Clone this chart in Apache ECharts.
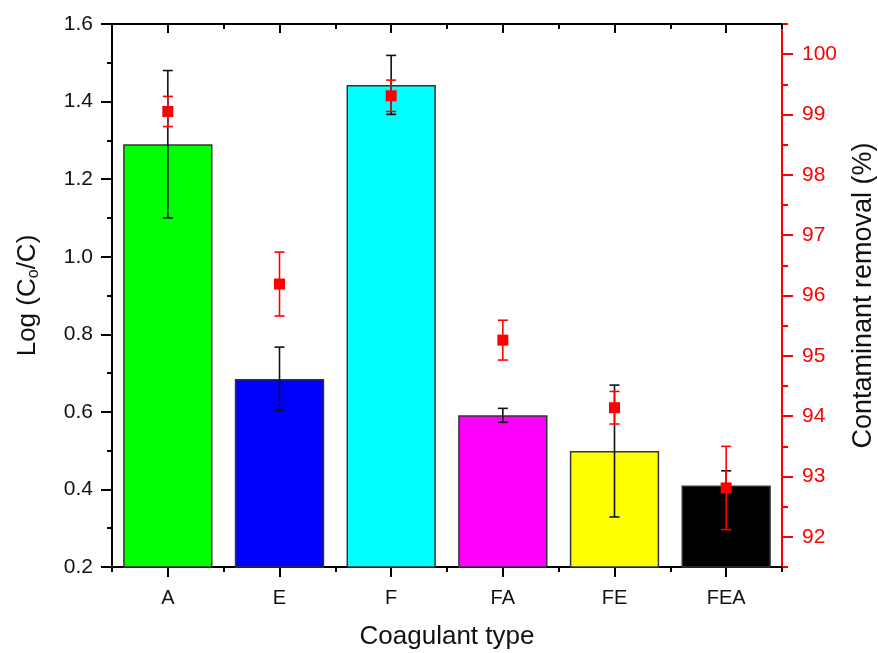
<!DOCTYPE html>
<html>
<head>
<meta charset="utf-8">
<script src="https://cdn.jsdelivr.net/npm/echarts@6/dist/echarts.min.js"></script>
<style>
  html, body { margin: 0; padding: 0; background: #fff; }
  #chart { width: 878px; height: 653px; }
</style>
</head>
<body>
<div id="chart"></div>
<script>
// Coagulant types and measured results
const categories = ['A', 'E', 'F', 'FA', 'FE', 'FEA'];
const logReduction = [1.29, 0.685, 1.443, 0.591, 0.499, 0.41];
const logReductionErr = [0.19, 0.082, 0.076, 0.018, 0.17, 0.038];
const removal = [99.05, 96.19, 99.31, 95.26, 94.14, 92.81];
const removalErr = [0.25, 0.53, 0.26, 0.33, 0.27, 0.69];
const rightTicks = [92, 93, 94, 95, 96, 97, 98, 99, 100];

const barColors = ['#00ff00', '#0000ff', '#00ffff', '#ff00ff', '#ffff00', '#000000'];
const FONT = '"Liberation Sans", Arial, sans-serif';
const RED = '#ff0000';
const INK = '#111111';

const chart = echarts.init(document.getElementById('chart'), null, { renderer: 'canvas' });

// Vertical error bar with caps, drawn from [x, low, high]
function errorBarRenderer(color, halfCap) {
  return function (params, api) {
    const top = api.coord([api.value(0), api.value(2)]);
    const bot = api.coord([api.value(0), api.value(1)]);
    const style = { stroke: color, lineWidth: 1.6 };
    return {
      type: 'group',
      children: [
        { type: 'line', shape: { x1: top[0], y1: top[1], x2: bot[0], y2: bot[1] }, style },
        { type: 'line', shape: { x1: top[0] - halfCap, y1: top[1], x2: top[0] + halfCap, y2: top[1] }, style },
        { type: 'line', shape: { x1: bot[0] - halfCap, y1: bot[1], x2: bot[0] + halfCap, y2: bot[1] }, style }
      ]
    };
  };
}

const logErrData = categories.map((c, i) => [i, logReduction[i] - logReductionErr[i], logReduction[i] + logReductionErr[i]]);
const remErrData = categories.map((c, i) => [i, removal[i] - removalErr[i], removal[i] + removalErr[i]]);

const tickStyle = { color: '#000', width: 2 };

const option = {
  animation: false,
  backgroundColor: '#ffffff',
  textStyle: { fontFamily: FONT },
  grid: { left: 112, right: 96, top: 24, bottom: 86, containLabel: false, outerBoundsMode: 'none' },
  xAxis: [
    {
      type: 'category', data: categories, position: 'bottom',
      axisLine: { show: true, lineStyle: { color: '#000', width: 2 } },
      axisTick: { show: true, alignWithLabel: true, length: 10, lineStyle: tickStyle },
      axisLabel: { show: true, color: INK, fontSize: 20, fontFamily: FONT, margin: 21 },
      name: 'Coagulant type', nameLocation: 'middle', nameGap: 57,
      nameTextStyle: { color: INK, fontSize: 26, fontFamily: FONT },
      splitLine: { show: false }
    },
    {
      type: 'category', data: categories, position: 'bottom',
      axisLine: { show: false },
      axisTick: { show: true, alignWithLabel: false, length: 5, lineStyle: tickStyle },
      axisLabel: { show: false }, splitLine: { show: false }
    },
    {
      type: 'category', data: categories, position: 'top',
      axisLine: { show: true, lineStyle: { color: '#000', width: 2 } },
      axisTick: { show: true, inside: true, alignWithLabel: true, length: 9, lineStyle: tickStyle },
      axisLabel: { show: false }, splitLine: { show: false }
    },
    {
      type: 'category', data: categories, position: 'top',
      axisLine: { show: false },
      axisTick: { show: true, inside: true, alignWithLabel: false, length: 5, lineStyle: tickStyle },
      axisLabel: { show: false }, splitLine: { show: false }
    }
  ],
  yAxis: [
    {
      type: 'value', position: 'left', min: 0.2, max: 1.6, interval: 0.2,
      axisLine: { show: true, lineStyle: { color: '#000', width: 2 } },
      axisTick: { show: true, length: 11, lineStyle: tickStyle },
      minorTick: { show: true, splitNumber: 2, length: 5, lineStyle: tickStyle },
      axisLabel: {
        color: INK, fontSize: 21, fontFamily: FONT, margin: 19,
        formatter: v => v.toFixed(1)
      },
      splitLine: { show: false },
      name: '{a|Log (C}{b|o}{a|/C)}', nameLocation: 'middle', nameGap: 70, nameRotate: 90,
      nameTextStyle: {
        rich: {
          a: { fontSize: 26, color: INK, fontFamily: FONT },
          b: { fontSize: 16, color: INK, fontFamily: FONT, padding: [12, 0, 0, 0] }
        }
      }
    },
    {
      type: 'value', position: 'right', min: 91.5, max: 100.5, interval: 0.5,
      axisLine: { show: true, lineStyle: { color: RED, width: 2 } },
      axisTick: { show: true, length: 11, customValues: rightTicks, lineStyle: { color: RED, width: 2 } },
      axisLabel: { color: RED, fontSize: 21, fontFamily: FONT, margin: 20, customValues: rightTicks },
      splitLine: { show: false },
      name: 'Contaminant removal (%)', nameLocation: 'middle', nameGap: 68, nameRotate: 90,
      nameTextStyle: { color: INK, fontSize: 27, fontFamily: FONT }
    },
    {
      type: 'value', position: 'right', min: 91.5, max: 100.5, interval: 0.5,
      axisLine: { show: false },
      axisTick: { show: true, length: 6, lineStyle: { color: RED, width: 2 } },
      axisLabel: { show: false }, splitLine: { show: false }
    }
  ],
  series: [
    {
      type: 'bar', xAxisIndex: 0, yAxisIndex: 0,
      barCategoryGap: '20%',
      data: logReduction.map((v, i) => ({
        value: v,
        itemStyle: { color: barColors[i], borderColor: '#333', borderWidth: 1.5 }
      })),
      z: 2
    },
    {
      type: 'custom', xAxisIndex: 0, yAxisIndex: 0,
      renderItem: errorBarRenderer(INK, 5),
      encode: { x: 0, y: [1, 2] },
      data: logErrData, z: 3
    },
    {
      type: 'custom', xAxisIndex: 0, yAxisIndex: 1,
      renderItem: errorBarRenderer(RED, 5),
      encode: { x: 0, y: [1, 2] },
      data: remErrData, z: 4
    },
    {
      type: 'scatter', xAxisIndex: 0, yAxisIndex: 1,
      symbol: 'rect', symbolSize: 11,
      itemStyle: { color: RED, opacity: 1 },
      data: removal, z: 5
    }
  ]
};

chart.setOption(option);
</script>
</body>
</html>
